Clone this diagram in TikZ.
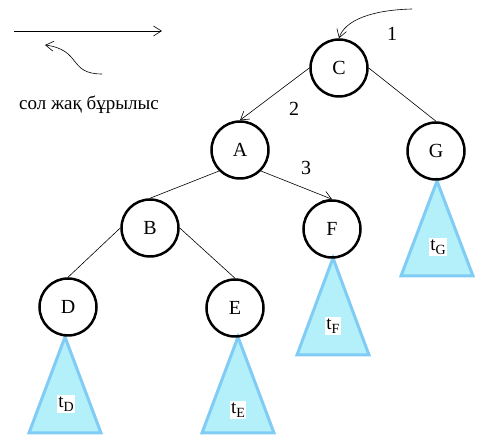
\documentclass[tikz,border=0pt]{standalone}
\usepackage{fontspec}
\setmainfont{Liberation Serif}
\usetikzlibrary{arrows.meta}
\definecolor{trifill}{HTML}{B4F0FA}
\definecolor{tridraw}{HTML}{80CCF5}
\newcommand{\tsub}[1]{t{\fontsize{14}{14}\selectfont\raisebox{-3.5pt}{#1}}}
\begin{document}
\begin{tikzpicture}[x=1pt,y=-1pt,
  vertex/.style={circle,draw=black,line width=2.5pt,minimum size=57pt,inner sep=0pt,font=\fontsize{20}{22}\selectfont},
  edge/.style={line width=0.6pt},
  arr/.style={line width=0.6pt,-{Straight Barb[length=8pt,width=10pt]}},
  subtree/.style={fill=trifill,draw=tridraw,line width=3pt,line join=miter},
  tlabel/.style={fill=white,inner xsep=1.5pt,inner ysep=2pt,font=\fontsize{19}{22}\selectfont},
  num/.style={font=\fontsize{20}{22}\selectfont}]
\useasboundingbox (0,0) rectangle (491,443);
% subtrees
\draw[subtree] (65,337) -- (101,433) -- (29,433) -- cycle;
\draw[subtree] (238,337) -- (274,433) -- (202,433) -- cycle;
\draw[subtree] (333,258) -- (369,355) -- (297,355) -- cycle;
\draw[subtree] (437,181) -- (473,276) -- (401,276) -- cycle;
\node[tlabel] (lD) at (66,404) {\tsub{D}};
\node[tlabel] (lE) at (238,410) {\tsub{E}};
\node[tlabel] (lF) at (333,326) {\tsub{F}};
\node[tlabel] (lG) at (438,247) {\tsub{G}};
% vertices
\node[vertex] (C) at (339,68) {C};
\node[vertex] (A) at (240,150) {A};
\node[vertex] (G) at (436,151) {G};
\node[vertex] (B) at (150,228) {B};
\node[vertex] (F) at (332,229) {F};
\node[vertex] (D) at (68,307) {D};
\node[vertex] (E) at (235,308) {E};
% edges
\draw[arr] (C.west) -- (A.north);
\draw[edge] (C.east) -- (G.north);
\draw[edge] (A.south west) -- (B.north);
\draw[arr] (A.south east) -- (F.north);
\draw[edge] (B.west) -- (D.north);
\draw[edge] (B.east) -- (E.north);
% entry arrow
\coordinate (s1) at (412,9);
\draw[arr] (s1) .. controls (372,10) and (345,20) .. (C.north);
% numbers
\node[num] (n1) at (392,34) {1};
\node[num] (n2) at (294,109) {2};
\node[num] (n3) at (306,168) {3};
% legend
\coordinate (la) at (14,31);
\coordinate (lb) at (162,31);
\draw[arr] (la) -- (lb);
\coordinate (ca) at (102,74);
\coordinate (cb) at (45,45);
\draw[arr] (ca) .. controls (68,74) and (82,50) .. (cb);
\node[font=\fontsize{19}{22}\selectfont] (cap) at (89,105) {сол жақ бұрылыс};
\end{tikzpicture}
\end{document}
